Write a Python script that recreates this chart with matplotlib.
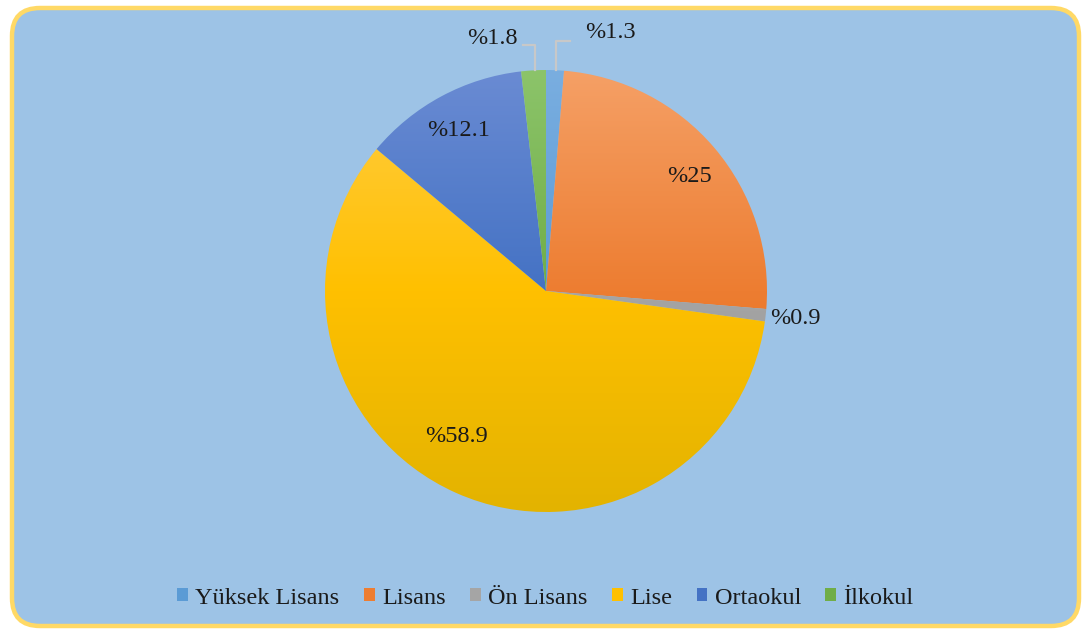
import numpy as np
import matplotlib.pyplot as plt
from matplotlib.patches import FancyBboxPatch, Patch
from matplotlib.colors import LinearSegmentedColormap

categories = ["Yüksek Lisans", "Lisans", "Ön Lisans", "Lise", "Ortaokul", "İlkokul"]
values = [1.3, 25, 0.9, 58.9, 12.1, 1.8]
labels = ["%1.3", "%25", "%0.9", "%58.9", "%12.1", "%1.8"]

# three-stop vertical gradient per slice: top tint, base colour, bottom shade
top_colors = ["#7AAEE0", "#F5A066", "#BDBDBD", "#FFCD45", "#6A8BD3", "#8CC46A"]
base_colors = ["#5B9BD5", "#ED7D31", "#A5A5A5", "#FFC000", "#4472C4", "#70AD47"]
bottom_colors = ["#4A86C0", "#E0670F", "#8F8F8F", "#E3B300", "#2F5CB6", "#5E9A35"]

W, H = 1091, 631
CX, CY, R = 546, H - 291, 221

plt.rcParams["font.family"] = ["Liberation Serif", "DejaVu Serif"]

fig = plt.figure(figsize=(W / 100, H / 100), dpi=100)
ax = fig.add_axes([0, 0, 1, 1])

# rounded panel
panel = FancyBboxPatch((12, 5), W - 24, H - 13,
                       boxstyle="round,pad=0,rounding_size=28",
                       facecolor="#9DC3E6", edgecolor="#FFD966", linewidth=3.2)
ax.add_patch(panel)

wedges, _ = ax.pie(values, startangle=90, counterclock=False, center=(CX, CY),
                   radius=R, frame=True, wedgeprops=dict(linewidth=0))
ax.set_xlim(0, W)
ax.set_ylim(0, H)
ax.set_aspect("equal")
ax.axis("off")

grad = np.linspace(1, 0, 256).reshape(-1, 1)
for w, c1, c0, c2 in zip(wedges, top_colors, base_colors, bottom_colors):
    w.set_alpha(0)
    cmap = LinearSegmentedColormap.from_list("g", [c2, c0, c1])
    im = ax.imshow(grad, cmap=cmap, extent=(CX - R, CX + R, CY - R, CY + R),
                   aspect="auto", zorder=2, vmin=0, vmax=1)
    im.set_clip_path(w)

# label centres, measured from the top-left corner
label_pos = {"%1.3": (610, 32), "%25": (690, 176), "%0.9": (795, 318),
             "%58.9": (456, 436), "%12.1": (459, 131), "%1.8": (492, 38)}
for lab in labels:
    x, y = label_pos[lab]
    ax.text(x, H - y, lab, fontsize=17.5, ha="center", va="center",
            color="#1A1A1A", zorder=4)

# leader lines for the two thin slices at the top
ax.plot([523, 535, 535], [H - 45, H - 45, H - 70], color="#C8C8C8", lw=1.6, zorder=3)
ax.plot([570, 556, 556], [H - 41, H - 41, H - 70], color="#C8C8C8", lw=1.6, zorder=3)

handles = [Patch(facecolor=c, edgecolor="none") for c in base_colors]
fig.legend(handles, categories, loc="center", bbox_to_anchor=(0.5, 1 - 598 / H),
           ncol=6, frameon=False, fontsize=17.5, handlelength=0.45, handleheight=0.45,
           handletextpad=0.3, columnspacing=1.0, labelcolor="#1A1A1A")

fig.savefig("out.png", dpi=100, facecolor="white")
